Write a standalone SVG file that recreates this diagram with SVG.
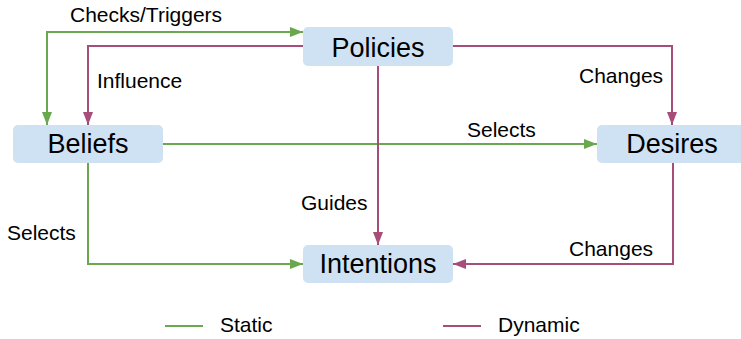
<svg xmlns="http://www.w3.org/2000/svg" width="741" height="339" viewBox="0 0 741 339">
<defs>
<marker id="ag" markerUnits="userSpaceOnUse" markerWidth="13" markerHeight="10" refX="13" refY="5" orient="auto"><path d="M0,0 L13,5 L0,10 z" fill="#6aa84f"/></marker>
<marker id="am" markerUnits="userSpaceOnUse" markerWidth="13" markerHeight="10" refX="13" refY="5" orient="auto"><path d="M0,0 L13,5 L0,10 z" fill="#a64d79"/></marker>
<style>
.box{fill:#cfe2f3;}
.nt{font-family:"Liberation Sans",Arial,sans-serif;font-size:27px;fill:#000;text-anchor:middle;}
.et{font-family:"Liberation Sans",Arial,sans-serif;font-size:21px;fill:#000;}
.g{fill:none;stroke:#6aa84f;stroke-width:2;}
.m{fill:none;stroke:#a64d79;stroke-width:2;}
</style>
</defs>
<rect width="741" height="339" fill="#fff"/>
<g id="connectors">
<path class="g" d="M303,32 H47 V125" marker-end="url(#ag)"/>
<path class="g" d="M47,32 H303" marker-end="url(#ag)"/>
<path class="m" d="M303,46 H88 V125" marker-end="url(#am)"/>
<path class="m" d="M453,46 H672 V125" marker-end="url(#am)"/>
<path class="g" d="M163,144 H597" marker-end="url(#ag)"/>
<path class="m" d="M378,66 V245" marker-end="url(#am)"/>
<path class="g" d="M88,163 V264 H303" marker-end="url(#ag)"/>
<path class="m" d="M673,163 V264 H453" marker-end="url(#am)"/>
<text class="et" x="70" y="22">Checks/Triggers</text>
<text class="et" x="97" y="88">Influence</text>
<text class="et" x="579" y="83">Changes</text>
<text class="et" x="467" y="137">Selects</text>
<text class="et" x="301" y="210">Guides</text>
<text class="et" x="7" y="240">Selects</text>
<text class="et" x="569" y="256">Changes</text>
</g>
<g id="policies"><rect class="box" x="303" y="27" width="150" height="39" rx="5"/><text class="nt" x="378" y="57">Policies</text></g>
<g id="beliefs"><rect class="box" x="13" y="125" width="150" height="38" rx="5"/><text class="nt" x="88" y="153">Beliefs</text></g>
<g id="desires"><rect class="box" x="597" y="125" width="150" height="38" rx="5"/><text class="nt" x="672" y="153">Desires</text></g>
<g id="intentions"><rect class="box" x="303" y="245" width="150" height="38" rx="5"/><text class="nt" x="378" y="273">Intentions</text></g>
<g id="legend">
<line class="g" x1="165" y1="326" x2="203" y2="326"/>
<text class="et" x="220" y="332">Static</text>
<line class="m" x1="443" y1="326" x2="481" y2="326"/>
<text class="et" x="498" y="332">Dynamic</text>
</g>
</svg>
